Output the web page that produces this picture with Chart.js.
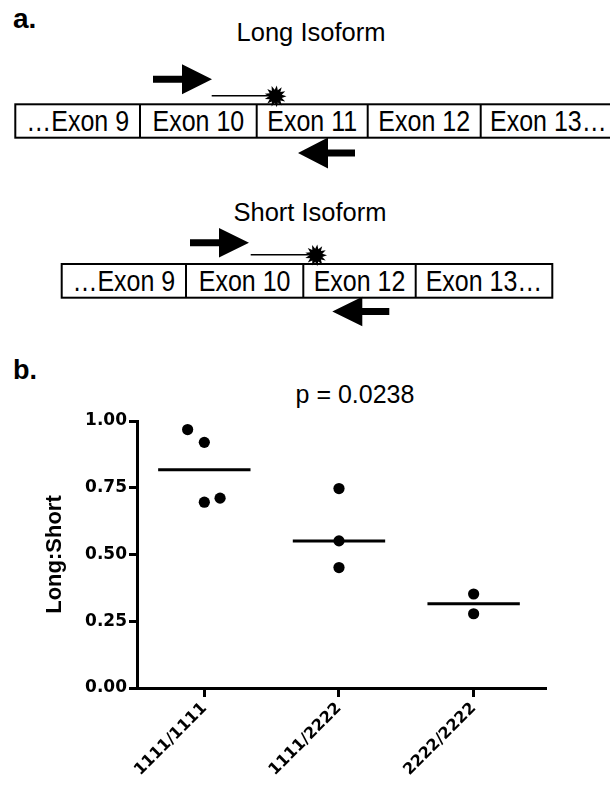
<!DOCTYPE html>
<html>
<head>
<meta charset="utf-8">
<script src="https://cdn.jsdelivr.net/npm/chart.js@4.4.0/dist/chart.umd.min.js"></script>
<style>
  body { margin: 0; background: #fff; }
  #page { position: relative; width: 610px; height: 786px; overflow: hidden; }
  #diagram { position: absolute; left: 0; top: 0; }
  #chartBox { position: absolute; left: 0; top: 380px; width: 610px; height: 406px; }
  svg text { font-family: 'Liberation Sans', Arial, sans-serif; fill: #000; }
</style>
</head>
<body>
<div id="page">
  <svg id="diagram" width="610" height="786" viewBox="0 0 610 786">
    <text x="13" y="28" font-size="28" font-weight="bold">a.</text>
    <text x="311" y="41" font-size="25.5" text-anchor="middle">Long Isoform</text>
    <g id="longRow"></g>
    <text x="310" y="221" font-size="25.5" text-anchor="middle">Short Isoform</text>
    <g id="shortRow"></g>
    <text x="13" y="379" font-size="27" font-weight="bold">b.</text>
    <text x="355" y="403" font-size="25" text-anchor="middle">p = 0.0238</text>
  </svg>
  <div id="chartBox"><canvas id="chart" width="610" height="406"></canvas></div>
</div>

<script>
// exon labels for the two isoforms
const longExons = ['…Exon 9', 'Exon 10', 'Exon 11', 'Exon 12', 'Exon 13…'];
const shortExons = ['…Exon 9', 'Exon 10', 'Exon 12', 'Exon 13…'];

// genotype groups and Long:Short ratios
const genotypes = ['1111/1111', '1111/2222', '2222/2222'];
const ratios1111_1111 = [0.968, 0.920, 0.711, 0.696];
const ratios1111_2222 = [0.747, 0.551, 0.451];
const ratios2222_2222 = [0.352, 0.278];
// small horizontal offsets used in the plot so dots don't overlap
const jitter1111_1111 = [-0.124, 0, 0.117, 0];
const jitter1111_2222 = [0, 0, 0];
const jitter2222_2222 = [0, 0];
// horizontal median bars
const medians = [0.817, 0.551, 0.316];
const yTicks = [0, 0.25, 0.5, 0.75, 1];

const SVGNS = 'http://www.w3.org/2000/svg';

function el(parent, tag, attrs, text) {
    const node = document.createElementNS(SVGNS, tag);
    for (const k in attrs) node.setAttribute(k, attrs[k]);
    if (text) node.textContent = text;
    parent.appendChild(node);
    return node;
}

function arrow(g, tail, tip, y, half) {
    const dir = tip > tail ? 1 : -1;
    const base = tip - dir * 30;
    const s = 3.5;
    const pts = [[tail, y - s], [base, y - s], [base, y - half], [tip, y],
                 [base, y + half], [base, y + s], [tail, y + s]];
    el(g, 'polygon', { points: pts.map(p => p.join(',')).join(' '), fill: '#000' });
}

function star(g, cx, cy) {
    const pts = [];
    const n = 13;
    for (let i = 0; i < n * 2; i++) {
        const r = i % 2 === 0 ? 11 : 6.5;
        const a = Math.PI * i / n;
        pts.push((cx + r * Math.cos(a)).toFixed(1) + ',' + (cy + r * Math.sin(a)).toFixed(1));
    }
    el(g, 'polygon', { points: pts.join(' '), fill: '#000' });
}

// draws one row of exon boxes with primers and probe
function drawRow(id, labels, edges, top, bottom, primers) {
    const g = document.getElementById(id);
    el(g, 'rect', { x: edges[0], y: top, width: edges[edges.length - 1] - edges[0], height: bottom - top,
                    fill: '#fff', stroke: '#000', 'stroke-width': 2 });
    labels.forEach((lab, i) => {
        if (i > 0) el(g, 'line', { x1: edges[i], x2: edges[i], y1: top, y2: bottom, stroke: '#000', 'stroke-width': 2 });
        const cx = (edges[i] + edges[i + 1]) / 2;
        el(g, 'text', { transform: `translate(${cx},${bottom - 6.5}) scale(1,1.17)`, 'font-size': 25, 'text-anchor': 'middle' }, lab);
    });
    arrow(g, primers.fwd[0], primers.fwd[1], primers.fwd[2], primers.fwd[3]);
    arrow(g, primers.rev[0], primers.rev[1], primers.rev[2], primers.rev[3]);
    el(g, 'line', { x1: primers.probe[0], x2: primers.probe[1], y1: primers.probe[2], y2: primers.probe[2],
                    stroke: '#000', 'stroke-width': 1.5 });
    star(g, primers.probe[1] + 2, primers.probe[2] + 0.5);
}

drawRow('longRow', longExons, [15.3, 140, 256.7, 367.7, 480.7, 616], 104.3, 137.7, {
    fwd: [153, 212, 79.3, 15], rev: [355, 298, 153, 15.5], probe: [211.7, 273.5, 95.8]
});
drawRow('shortRow', shortExons, [61.7, 186, 303.3, 415.7, 552.3], 264, 297.7, {
    fwd: [190, 249, 242.7, 14.8], rev: [389.3, 332.3, 311.5, 14.7], probe: [250.7, 314, 254.8]
});

// ---- scatter plot ----
const groupValues = [ratios1111_1111, ratios1111_2222, ratios2222_2222];
const groupJitter = [jitter1111_1111, jitter1111_2222, jitter2222_2222];
const medianHalf = 0.343;

const points = [];
groupValues.forEach((vals, i) => {
    vals.forEach((v, j) => points.push({ x: i + 1 + groupJitter[i][j], y: v }));
});

const medianSets = medians.map((m, i) => ({
    type: 'line',
    data: [{ x: i + 1 - medianHalf, y: m }, { x: i + 1 + medianHalf, y: m }],
    borderColor: '#000',
    borderWidth: 3,
    pointRadius: 0,
    fill: false
}));

new Chart(document.getElementById('chart').getContext('2d'), {
    type: 'scatter',
    data: {
        datasets: [...medianSets, {
            type: 'scatter',
            data: points,
            pointRadius: 5.6,
            backgroundColor: '#000',
            borderColor: '#000',
            borderWidth: 0
        }]
    },
    options: {
        responsive: false,
        animation: false,
        layout: { padding: { left: 40, top: 41, right: 65, bottom: 0 } },
        plugins: { legend: { display: false }, tooltip: { enabled: false } },
        scales: {
            x: {
                type: 'linear',
                min: 0.5,
                max: 3.53,
                afterBuildTicks: s => { s.ticks = genotypes.map((g, i) => ({ value: i + 1 })); },
                afterFit: s => { s.height = 98; },
                ticks: {
                    callback: v => genotypes[Math.round(v) - 1],
                    maxRotation: 45,
                    minRotation: 45,
                    font: { family: 'DejaVu Sans', weight: 'bold', size: 16 },
                    color: '#000',
                    padding: 2
                },
                grid: { drawOnChartArea: false, color: '#000', lineWidth: 3, tickLength: 9 },
                border: { color: '#000', width: 3 }
            },
            y: {
                min: 0,
                max: 1,
                afterBuildTicks: s => { s.ticks = yTicks.map(v => ({ value: v })); },
                afterFit: s => { s.width = 97; },
                ticks: {
                    callback: v => v.toFixed(2),
                    font: { family: 'DejaVu Sans', weight: 'bold', size: 17 },
                    color: '#000',
                    padding: 2
                },
                grid: { drawOnChartArea: false, color: '#000', lineWidth: 3, tickLength: 8 },
                border: { color: '#000', width: 3 },
                title: {
                    display: true,
                    text: 'Long:Short',
                    font: { family: 'Liberation Sans', weight: 'bold', size: 22 },
                    color: '#000',
                    padding: { top: 2, bottom: 0 }
                }
            }
        }
    }
});
</script>
</body>
</html>
